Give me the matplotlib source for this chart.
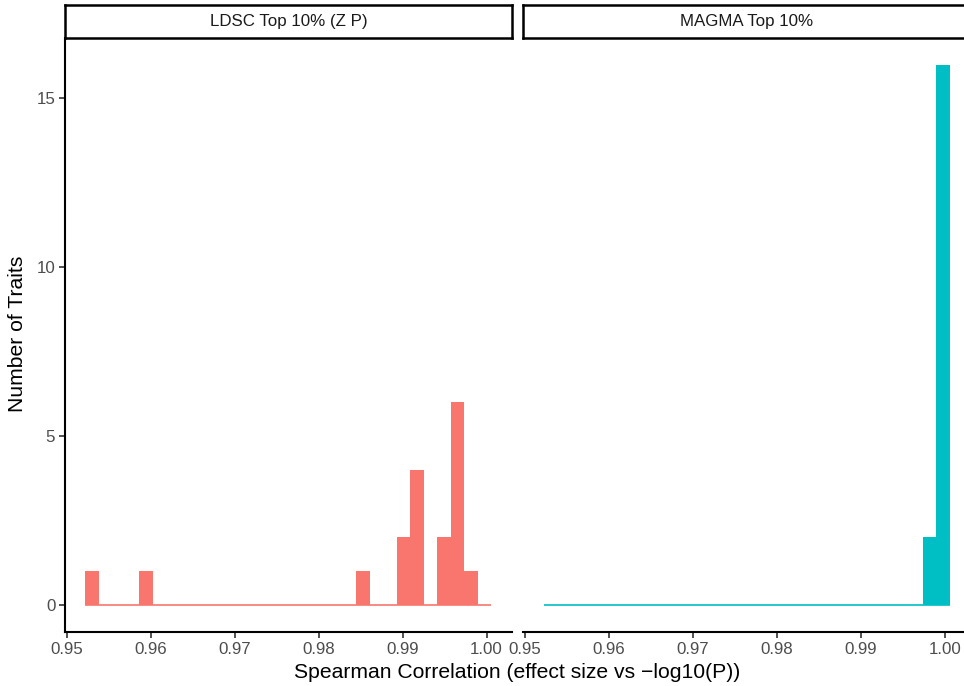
import matplotlib
matplotlib.use("Agg")
import matplotlib.pyplot as plt
import numpy as np

plt.rcParams['font.family'] = ['Liberation Sans', 'DejaVu Sans']

# Histogram data (30 bins, shared range)
bin_lo = 0.95222
bin_hi = 1.00057
n_bins = 30
panels = ["LDSC Top 10% (Z P)", "MAGMA Top 10%"]
colors = ["#F8766D", "#00BFC4"]
ldsc_counts = [1, 0, 0, 0, 1, 0, 0, 0, 0, 0,
               0, 0, 0, 0, 0, 0, 0, 0, 0, 0,
               1, 0, 0, 2, 4, 0, 2, 6, 1, 0]
magma_counts = [0, 0, 0, 0, 0, 0, 0, 0, 0, 0,
                0, 0, 0, 0, 0, 0, 0, 0, 0, 0,
                0, 0, 0, 0, 0, 0, 0, 0, 2, 16]
x_ticks = [0.95, 0.96, 0.97, 0.98, 0.99, 1.00]
y_ticks = [0, 5, 10, 15]

W, H = 964, 686
fig = plt.figure(figsize=(W / 100, H / 100), dpi=100)

edges = np.linspace(bin_lo, bin_hi, n_bins + 1)
width = edges[1] - edges[0]
rng = bin_hi - bin_lo
xlim = (bin_lo - 0.05 * rng, bin_hi + 0.05 * rng)
ymax = max(max(ldsc_counts), max(magma_counts))
ylim = (-0.05 * ymax, ymax * 1.05)

panel_w = 446.7
lefts = [65, 523.3]
top, bottom = 37.5, 632
strip_top = 5
small = 12.2

for i, (name, counts, col) in enumerate(zip(panels, [ldsc_counts, magma_counts], colors)):
    ax = fig.add_axes([lefts[i] / W, (H - bottom) / H, panel_w / W, (bottom - top) / H])
    ax.bar(edges[:-1], counts, width=width, align='edge', color=col, linewidth=0)
    ax.hlines(0, edges[0], edges[-1], color=col, linewidth=1.2)
    ax.set_xlim(*xlim)
    ax.set_ylim(*ylim)
    ax.set_xticks(x_ticks)
    ax.set_xticklabels([f'{t:.2f}' for t in x_ticks])
    for s in ['top', 'right']:
        ax.spines[s].set_visible(False)
    ax.spines['bottom'].set_linewidth(1.5)
    ax.tick_params(axis='both', labelsize=small, labelcolor='#4D4D4D', color='#333333',
                   length=4, width=1.2, pad=3)
    if i == 0:
        ax.set_yticks(y_ticks)
        ax.spines['left'].set_linewidth(1.5)
    else:
        ax.spines['left'].set_visible(False)
        ax.set_yticks([])

    # facet strip
    sax = fig.add_axes([lefts[i] / W, (H - top) / H, panel_w / W, (top - strip_top) / H])
    sax.set_xticks([])
    sax.set_yticks([])
    for s in sax.spines.values():
        s.set_linewidth(1.8)
        s.set_color('black')
    sax.text(0.5, 0.5, name, ha='center', va='center', fontsize=small,
             color='#1A1A1A', transform=sax.transAxes)

fig.text(517 / W, 1 - 673 / H, 'Spearman Correlation (effect size vs \u2212log10(P))',
         ha='center', va='center', fontsize=15.2)
fig.text(18 / W, 1 - 334 / H, 'Number of Traits', ha='center', va='center',
         rotation=90, fontsize=15.2)

fig.savefig('out.png', dpi=100)
